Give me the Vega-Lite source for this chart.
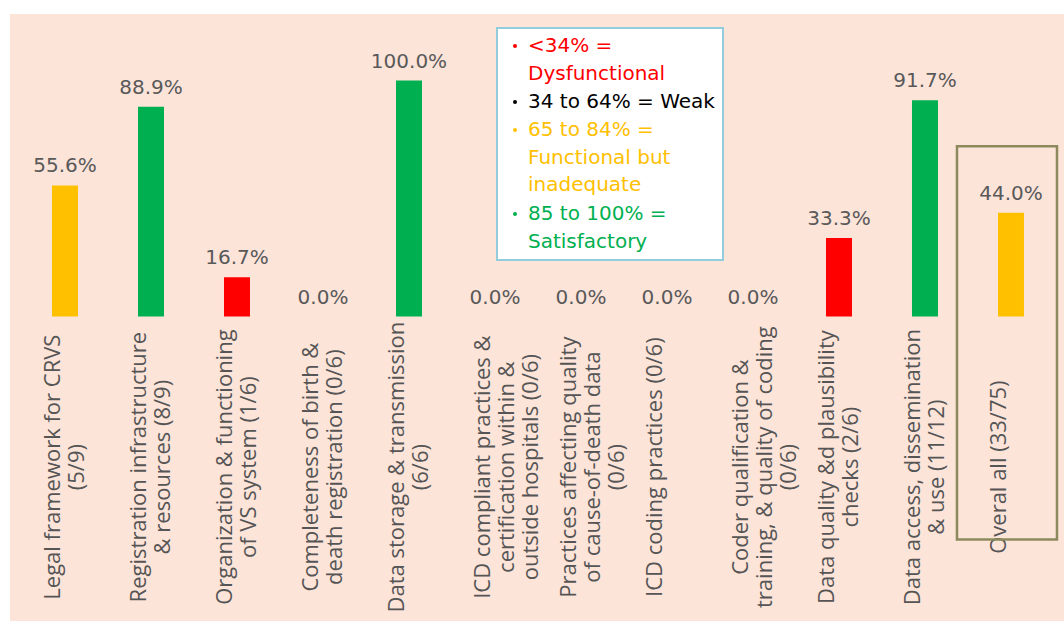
{
  "$schema": "https://vega.github.io/schema/vega-lite/v6.json",
  "width": 1064,
  "height": 621,
  "autosize": {"type": "fit", "contains": "padding"},
  "padding": {"top": 14, "left": 10, "right": 0, "bottom": 0},
  "background": "#ffffff",
  "config": {"view": {"fill": "#fde4d9", "stroke": null}},
  "data": {
    "values": [
      {"label": "Legal framework for CRVS\n(5/9)", "score": 0.5556, "status": "65 to 84% =\nFunctional but\ninadequate"},
      {"label": "Registration infrastructure\n& resources (8/9)", "score": 0.8889, "status": "85 to 100% =\nSatisfactory"},
      {"label": "Organization & functioning\nof VS system (1/6)", "score": 0.1667, "status": "<34% =\nDysfunctional"},
      {"label": "Completeness of birth &\ndeath registration (0/6)", "score": 0, "status": "<34% =\nDysfunctional"},
      {"label": "Data storage & transmission\n(6/6)", "score": 1.0, "status": "85 to 100% =\nSatisfactory"},
      {"label": "ICD compliant practices &\ncertification within &\noutside hospitals (0/6)", "score": 0, "status": "<34% =\nDysfunctional"},
      {"label": "Practices affecting quality\nof cause-of-death data\n(0/6)", "score": 0, "status": "<34% =\nDysfunctional"},
      {"label": "ICD coding practices (0/6)", "score": 0, "status": "<34% =\nDysfunctional"},
      {"label": "Coder qualification &\ntraining, & quality of coding\n(0/6)", "score": 0, "status": "<34% =\nDysfunctional"},
      {"label": "Data quality &d plausibility\nchecks (2/6)", "score": 0.3333, "status": "<34% =\nDysfunctional"},
      {"label": "Data access, dissemination\n& use (11/12)", "score": 0.9167, "status": "85 to 100% =\nSatisfactory"},
      {"label": "Overal all (33/75)", "score": 0.44, "status": "65 to 84% =\nFunctional but\ninadequate"}
    ]
  },
  "encoding": {
    "x": {
      "field": "label",
      "type": "nominal",
      "sort": null,
      "scale": {"paddingInner": 0, "paddingOuter": 0.128, "align": 0.545},
      "axis": null
    }
  },
  "layer": [
    {
      "mark": {"type": "bar", "width": 26},
      "encoding": {
        "y": {"field": "score", "type": "quantitative", "scale": {"domain": [-1.29, 1.282], "nice": false, "zero": false}, "axis": null},
        "color": {
          "field": "status",
          "type": "nominal",
          "scale": {
            "domain": ["<34% =\nDysfunctional", "34 to 64% = Weak", "65 to 84% =\nFunctional but\ninadequate", "85 to 100% =\nSatisfactory"],
            "range": ["#ff0000", "#000000", "#ffc000", "#00b050"]
          },
          "legend": {
            "orient": "none",
            "legendX": 487,
            "legendY": 14,
            "title": null,
            "fillColor": "#ffffff",
            "strokeColor": "#93cddd",
            "padding": 8,
            "symbolType": "circle",
            "symbolSize": 16,
            "symbolStrokeWidth": 0,
            "labelFont": "DejaVu Sans",
            "labelFontSize": 20,
            "labelLimit": 400,
            "labelOffset": 3,
            "rowPadding": 8,
            "labelExpr": "split(datum.label, '\\n')",
            "encode": {
              "legend": {"update": {"strokeWidth": {"value": 2}}},
              "labels": {
                "update": {
                  "lineHeight": {"value": 27.7},
                  "fill": [
                    {"test": "indexof(datum.value, 'Dysfunctional') >= 0", "value": "#ff0000"},
                    {"test": "indexof(datum.value, 'Functional but') >= 0", "value": "#ffc000"},
                    {"test": "indexof(datum.value, 'Satisfactory') >= 0", "value": "#00b050"},
                    {"value": "#000000"}
                  ]
                }
              }
            }
          }
        }
      }
    },
    {
      "mark": {"type": "text", "font": "DejaVu Sans", "fontSize": 20, "fill": "#595959", "baseline": "alphabetic", "dy": -13},
      "encoding": {
        "y": {"field": "score", "type": "quantitative"},
        "text": {"field": "score", "type": "quantitative", "format": ".1%"}
      }
    },
    {
      "mark": {"type": "text", "angle": 270, "align": "center", "baseline": "middle", "lineBreak": "\n", "font": "Open Sans", "fontSize": 22, "lineHeight": 24, "fill": "#555555", "dy": -12},
      "encoding": {
        "y": {"datum": -0.638, "type": "quantitative"},
        "text": {"field": "label", "type": "nominal"}
      }
    },
    {
      "transform": [{"filter": "datum.label == 'Overal all (33/75)'"}],
      "mark": {"type": "bar", "width": 100, "xOffset": -4, "filled": false, "stroke": "#8c8a5c", "strokeWidth": 2.5},
      "encoding": {
        "y": {"datum": 0.722, "type": "quantitative"},
        "y2": {"datum": -0.945}
      }
    }
  ]
}
